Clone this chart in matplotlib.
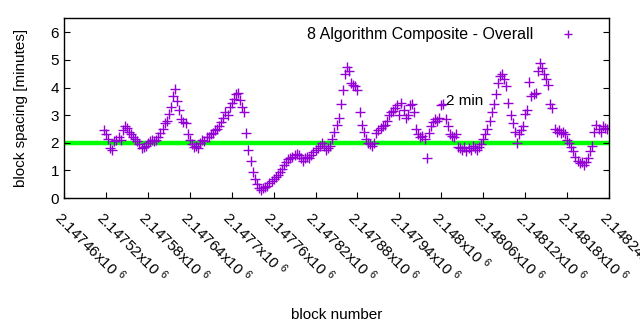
import numpy as np
import matplotlib
matplotlib.use("Agg")
import matplotlib.pyplot as plt
from matplotlib.transforms import ScaledTranslation

plt.rcParams['font.family'] = ['Liberation Sans', 'DejaVu Sans']
plt.rcParams['mathtext.fontset'] = 'custom'
plt.rcParams['mathtext.rm'] = 'Liberation Sans'
plt.rcParams['mathtext.it'] = 'Liberation Sans'

# block numbers: every 3rd block from first_block
first_block = 2147517
block_step = 3

# block spacing in minutes
spacing = [
    2.45, 2.3, 2.15, 1.8, 1.75, 2.05, 2.1, 2.2, 2.1, 2.45,
    2.6, 2.55, 2.4, 2.3, 2.2, 2.15, 2.05, 1.95, 1.8, 1.85,
    1.9, 2.0, 2.05, 2.1, 2.05, 2.1, 2.2, 2.35, 2.5, 2.7,
    2.8, 3.05, 3.3, 3.7, 3.95, 3.5, 3.2, 2.85, 2.75, 2.7,
    2.3, 2.1, 1.95, 1.85, 1.9, 1.8, 2.0, 2.1, 2.05, 2.2,
    2.2, 2.3, 2.35, 2.45, 2.5, 2.6, 2.75, 2.9, 3.1, 3.0,
    3.3, 3.45, 3.6, 3.75, 3.8, 3.55, 3.3, 3.1, 2.35, 1.75,
    1.35, 0.95, 0.7, 0.5, 0.35, 0.3, 0.35, 0.4, 0.45, 0.55,
    0.6, 0.7, 0.75, 0.85, 0.95, 1.05, 1.2, 1.3, 1.4, 1.45,
    1.5, 1.55, 1.6, 1.55, 1.45, 1.35, 1.45, 1.5, 1.45, 1.55,
    1.65, 1.75, 1.8, 1.9, 2.0, 1.9, 1.75, 1.8, 1.9, 2.15,
    2.4, 2.65, 2.9, 3.4, 3.9, 4.5, 4.75, 4.6, 4.15, 4.1,
    4.05, 3.9, 3.1, 2.65, 2.4, 2.15, 2.0, 1.95, 1.9, 2.0,
    2.35, 2.45, 2.55, 2.6, 2.65, 2.8, 3.0, 3.1, 3.15, 3.25,
    3.35, 3.0, 3.45, 3.2, 2.9, 3.0, 3.35, 3.4, 3.1, 2.5,
    2.3, 2.2, 2.25, 2.15, 1.45, 2.35, 2.6, 2.75, 2.85, 2.8,
    2.9, 3.35, 3.4, 2.85, 2.6, 2.3, 2.25, 2.2, 2.3, 1.85,
    1.8, 1.75, 1.85, 1.7, 1.8, 1.75, 1.9, 1.8, 1.75, 1.85,
    1.95, 2.15, 2.3, 2.5, 2.8, 3.1, 3.4, 3.75, 4.15, 4.4,
    4.5, 4.3, 4.05, 3.45, 3.0, 2.7, 2.4, 2.0, 2.3, 2.45,
    2.6, 3.05, 3.2, 4.2, 3.7, 3.75, 3.8, 4.6, 4.9, 4.7,
    4.5, 4.3, 4.1, 3.4, 3.25, 2.5, 2.4, 2.45, 2.35, 2.4,
    2.3, 2.1, 2.0, 1.85, 1.7, 1.5, 1.35, 1.25, 1.3, 1.2,
    1.3, 1.45, 1.7, 1.9, 2.4, 2.65, 2.5, 2.4, 2.6, 2.55, 2.5,
]
blocks = first_block + block_step * np.arange(len(spacing))

target_minutes = 2
x_ticks = [2147460, 2147520, 2147580, 2147640, 2147700, 2147760, 2147820,
           2147880, 2147940, 2148000, 2148060, 2148120, 2148180, 2148240]
x_labels = ["%gx10 $^{6}$" % (v / 1e6) for v in x_ticks]

fig = plt.figure(figsize=(6.4, 3.3), dpi=100)
ax = fig.add_axes([0.1, 0.4, 0.8516, 0.544])

ax.axhline(target_minutes, color='#00ff00', lw=3.2, zorder=1)
ax.plot(blocks, spacing, '+', color='#9400d3', ms=6.5, mew=1.0,
        label='8 Algorithm Composite - Overall', zorder=2)
ax.text(2148007, 3.5, '2 min', fontsize=11, ha='left', va='center')

ax.set_xlim(2147460, 2148240)
ax.set_ylim(0, 6.5)
ax.set_yticks(range(0, 7))
ax.set_xticks(x_ticks)
ax.set_xticklabels(x_labels, rotation=-45, ha='left', va='top',
                   rotation_mode='anchor', fontsize=11)
# nudge the slanted labels so they start right at the tick
shift = ScaledTranslation(5 / 100, 0, fig.dpi_scale_trans)
for lab in ax.get_xticklabels():
    lab.set_transform(lab.get_transform() + shift)
ax.tick_params(axis='y', direction='in', right=True, length=4.5, labelsize=11)
ax.tick_params(axis='x', direction='in', top=False, length=4.5, pad=7)
for s in ax.spines.values():
    s.set_linewidth(1.0)

ax.set_xlabel('block number', fontsize=11, labelpad=16)
ax.set_ylabel('block spacing [minutes]', fontsize=11, labelpad=16)

ax.legend(loc='upper right', bbox_to_anchor=(0.973, 1.03), frameon=False,
          markerfirst=False, fontsize=11.5, handlelength=1.5, handletextpad=1.4,
          markerscale=0.85)

fig.savefig('out.png', dpi=100)
